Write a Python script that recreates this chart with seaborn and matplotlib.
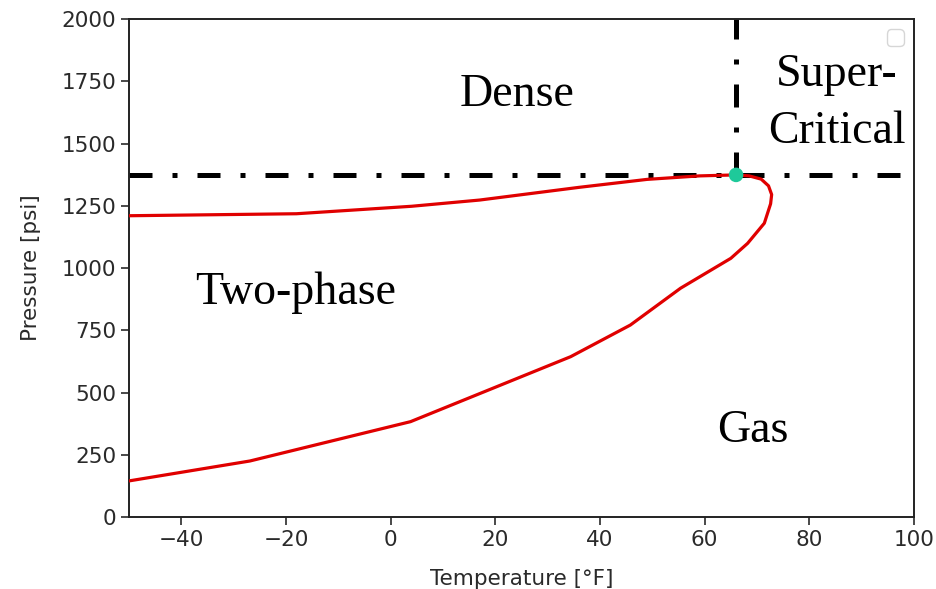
import matplotlib
matplotlib.use("Agg")
import matplotlib.pyplot as plt
import seaborn as sns
import numpy as np
import pandas as pd

# Phase envelope (bubble branch then dew branch)
temperature_f = [-50, -18, 4, 17, 36, 49, 59, 66,
                 68.5, 70.8, 72.2, 72.8, 72.6, 71.4, 68.2, 65.0, 61.8, 58.6, 55.4,
                 45.8, 34.4, 3.8, -26.9, -50]
pressure_psi = [1210, 1218, 1248, 1273, 1324, 1356, 1370, 1374,
                1370, 1357, 1330, 1295, 1258, 1180, 1099, 1039, 999, 959, 919,
                771, 644, 383, 225, 145]

critical_t = [66.0]
critical_p = [1374]

region_labels = ["Dense", "Super-\nCritical", "Two-phase", "Gas"]
region_t = [24.2, 85.3, -18.2, 69.2]
region_p = [1697, 1662, 900, 346]

x_ticks = [-40, -20, 0, 20, 40, 60, 80, 100]
y_ticks = [0, 250, 500, 750, 1000, 1250, 1500, 1750, 2000]

sns.set_style("ticks")
plt.rcParams['font.family'] = ['DejaVu Sans']
plt.rcParams['xtick.major.size'] = 5.5
plt.rcParams['ytick.major.size'] = 5.5
plt.rcParams['xtick.major.width'] = 1.2
plt.rcParams['ytick.major.width'] = 1.2

fig = plt.figure(figsize=(9.36, 5.89), dpi=100)
ax = fig.add_axes([0.1378, 0.1222, 0.9765 - 0.1378, 0.9677 - 0.1222])

df = pd.DataFrame({"T": temperature_f, "P": pressure_psi})
sns.lineplot(data=df, x="T", y="P", sort=False, estimator=None,
             color="#e00000", linewidth=2.3, ax=ax, zorder=3)

pattern = (4.6, 4.0, 1.0, 4.0)
ax.axhline(critical_p[0], color="black", linewidth=3.6, dashes=pattern, zorder=2)
ax.axvline(critical_t[0], ymin=critical_p[0] / 2000, ymax=1.0, color="black",
           linewidth=3.6, dashes=pattern, zorder=2)

sns.scatterplot(x=critical_t, y=critical_p, color="#1ec99a", s=110,
                edgecolor="none", ax=ax, zorder=5)

for lab, t, p in zip(region_labels, region_t, region_p):
    ax.text(t, p, lab, ha="center", va="center", fontsize=33,
            family="Liberation Serif", color="black", linespacing=1.45)

ax.set_xlim(-50, 100)
ax.set_ylim(0, 2000)
ax.set_xticks(x_ticks)
ax.set_yticks(y_ticks)
ax.tick_params(labelsize=15.5, colors="#2a2a2a")
ax.set_xlabel("Temperature [°F]", fontsize=15.5, color="#2a2a2a", labelpad=14)
ax.set_ylabel("Pressure [psi]", fontsize=15.5, color="#2a2a2a", labelpad=15)
for s in ax.spines.values():
    s.set_visible(True)
    s.set_linewidth(1.4)
    s.set_color("#222222")

import warnings
with warnings.catch_warnings():
    warnings.simplefilter("ignore")
    ax.legend(loc="upper right", fontsize=15)

fig.savefig("out.png", dpi=100)
